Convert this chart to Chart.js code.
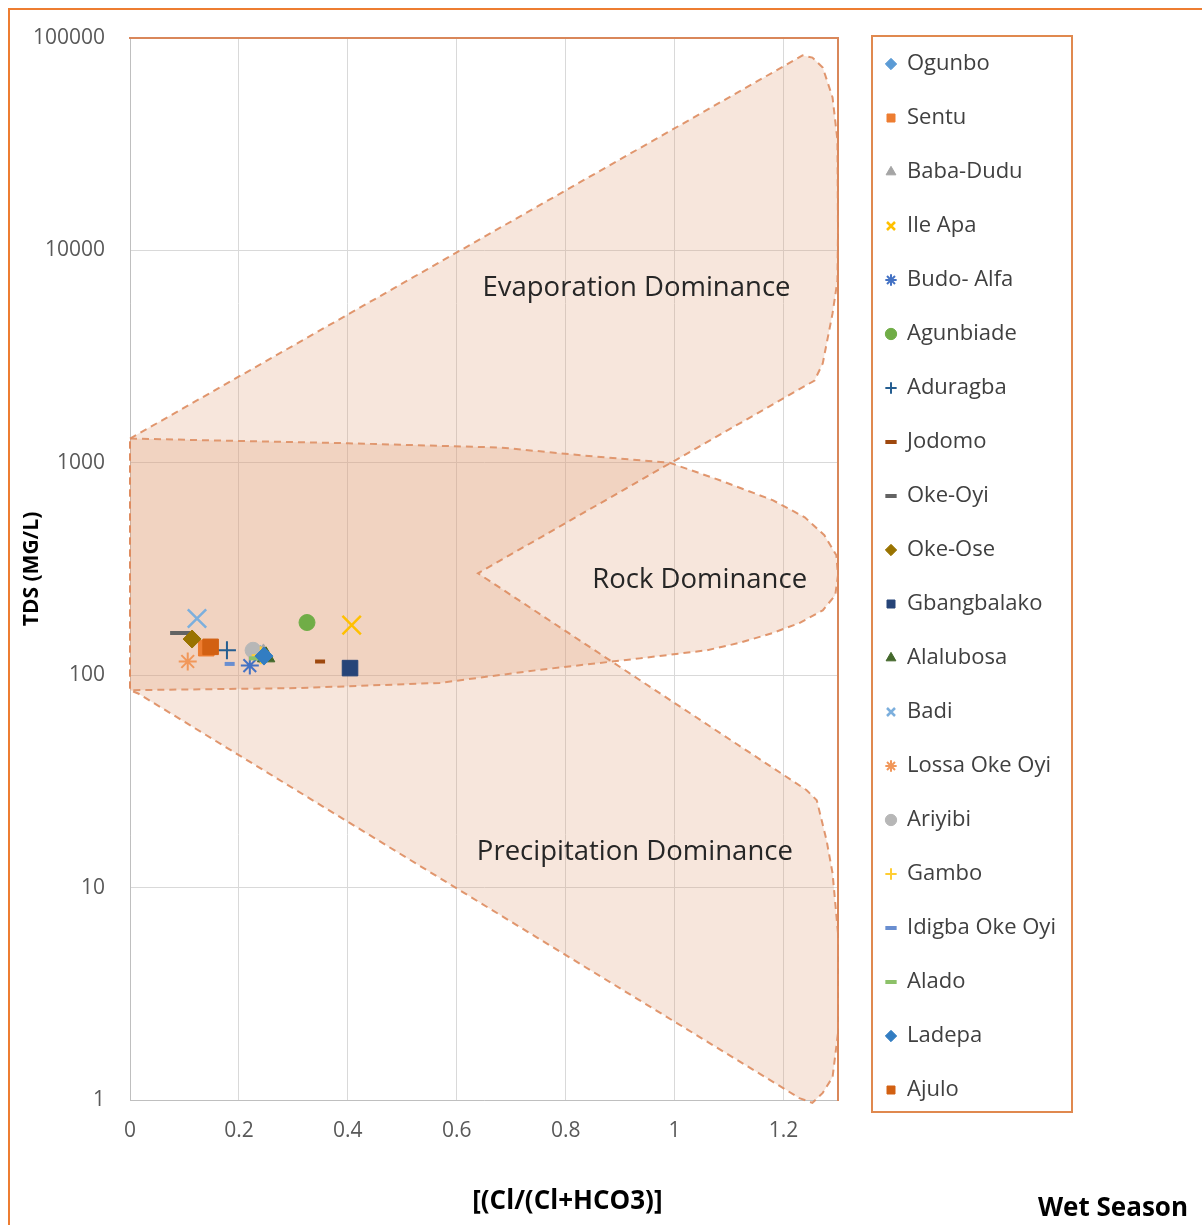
<!DOCTYPE html>
<html>
<head>
<meta charset="utf-8">
<title>Gibbs diagram - Wet Season</title>
<script src="https://cdn.jsdelivr.net/npm/chart.js@4.4.1/dist/chart.umd.min.js"></script>
<style>
  html, body { margin: 0; padding: 0; background: #fff; overflow: hidden; }
  #frame { position: absolute; left: 8px; top: 8px; width: 1220px; height: 1240px;
           border: 2px solid #ED7D31; box-sizing: border-box; }
  #wrap { position: absolute; left: 0; top: 0; width: 1202px; height: 1225px; }
</style>
</head>
<body>
<div id="frame"></div>
<div id="wrap"><canvas id="gibbs"></canvas></div>
<script>
// sampling sites (wet season)
const sites = ['Ogunbo', 'Sentu', 'Baba-Dudu', 'Ile Apa', 'Budo- Alfa', 'Agunbiade', 'Aduragba',
  'Jodomo', 'Oke-Oyi', 'Oke-Ose', 'Gbangbalako', 'Alalubosa', 'Badi', 'Lossa Oke Oyi',
  'Ariyibi', 'Gambo', 'Idigba Oke Oyi', 'Alado', 'Ladepa', 'Ajulo'];
// Cl/(Cl+HCO3)
const clRatio = [0.24, 0.14, 0.245, 0.407, 0.22, 0.325, 0.178, 0.349, 0.092, 0.114,
  0.404, 0.25, 0.123, 0.106, 0.226, 0.24, 0.183, 0.235, 0.246, 0.148];
// TDS mg/L
const tdsValues = [125, 134, 126, 172, 111, 177, 131, 116, 158, 148,
  108, 122, 185, 116, 131, 124, 113, 120, 123, 136];

const siteColors = ['#5B9BD5', '#ED7D31', '#A5A5A5', '#FFC000', '#4472C4', '#70AD47', '#255E91',
  '#9E480E', '#636363', '#997300', '#264478', '#43682B', '#7CAFDD', '#F1975A',
  '#B7B7B7', '#FFCD33', '#698ED0', '#8CC168', '#327DC2', '#D26012'];
const siteMarkers = ['rectRot', 'rect', 'triangle', 'crossRot', 'star', 'circle', 'cross',
  'line', 'line', 'rectRot', 'rect', 'triangle', 'crossRot', 'star',
  'circle', 'cross', 'line', 'line', 'rectRot', 'rect'];
const markerRadius = [9, 11, 10, 13, 9, 8, 9, 5, 10, 9, 11, 10, 13, 9, 8, 9, 5, 9, 9, 11];
const markerLine = [1, 1, 1, 2.5, 2, 1, 2, 4, 4, 1, 1, 1, 2.5, 2, 1, 2, 4, 4, 1, 1];

// Gibbs fields: [Cl ratio, TDS]
const boomerangField = [[0, 1300], [1.235, 82800], [1.253, 80900], [1.272, 72600], [1.29, 52500],
  [1.299, 33000], [1.3, 12400], [1.299, 7220], [1.29, 5050], [1.272, 2940], [1.257, 2440],
  [0.639, 302], [1.242, 28.8], [1.261, 25.8], [1.279, 16.7], [1.29, 11.7], [1.3, 6.1],
  [1.3, 2.07], [1.29, 1.28], [1.272, 1.08], [1.253, 0.97], [1.229, 1.02], [1.206, 1.11],
  [0.015, 82], [0, 85], [0, 1300]];
const rockField = [[0, 1300], [0.4, 1236], [0.68, 1180], [0.85, 1072], [0.991, 1000],
  [1.083, 828], [1.18, 667], [1.239, 554], [1.275, 456], [1.297, 367], [1.3, 296],
  [1.295, 238], [1.272, 202], [1.229, 176], [1.18, 158], [1.119, 142], [1.059, 131],
  [0.936, 120], [0.752, 106], [0.569, 92], [0.312, 87], [0, 85], [0, 1300]];

const fieldNames = ['Evaporation Dominance', 'Rock Dominance', 'Precipitation Dominance'];
const fieldLabelX = [0.93, 1.046, 0.927];
const fieldLabelY = [6620, 280, 14.7];

const yTicks = [1, 10, 100, 1000, 10000, 100000];
const FONT = "'Open Sans', 'Noto Sans', sans-serif";
const LEGEND_SIZE = 22;
const LEGEND_PAD = 32;

// legend width depends on the longest name; keep its left edge where the plot needs it
const mctx = document.createElement('canvas').getContext('2d');
mctx.font = LEGEND_SIZE + 'px ' + FONT;
const longest = Math.max(...sites.map(s => mctx.measureText(s).width));
const legendLeft = 854;
const legendWidth = LEGEND_PAD + 10 + LEGEND_SIZE / 2 + longest + 10;
const padRight = Math.max(0, 1202 - legendLeft - legendWidth);

const siteSets = sites.map((name, i) => ({
  label: name,
  data: [{ x: clRatio[i], y: tdsValues[i] }],
  pointStyle: siteMarkers[i],
  pointRadius: markerRadius[i],
  pointHoverRadius: markerRadius[i],
  backgroundColor: siteColors[i],
  borderColor: siteColors[i],
  borderWidth: markerLine[i],
  order: sites.length - i   // later series on top, like the spreadsheet
}));

function fieldSet(name, pts) {
  return {
    label: name,
    data: pts.map(p => ({ x: p[0], y: p[1] })),
    showLine: true,
    fill: 'shape',
    tension: 0,
    pointRadius: 0,
    pointHoverRadius: 0,
    borderColor: 'rgba(222,140,95,0.9)',
    borderWidth: 2,
    borderDash: [7, 5],
    backgroundColor: 'rgba(223,155,115,0.25)',
    clip: false,
    order: 100
  };
}

const fieldText = {
  id: 'fieldText',
  afterDatasetsDraw(chart) {
    const { ctx, scales: { x, y } } = chart;
    ctx.save();
    ctx.fillStyle = '#262626';
    ctx.font = '27.5px ' + FONT;
    ctx.textAlign = 'center';
    ctx.textBaseline = 'middle';
    fieldNames.forEach((t, i) => {
      ctx.fillText(t, x.getPixelForValue(fieldLabelX[i]), y.getPixelForValue(fieldLabelY[i]));
    });
    ctx.restore();
  }
};

const frameAndTitles = {
  id: 'frameAndTitles',
  afterDraw(chart) {
    const { ctx, chartArea, legend } = chart;
    const hb = legend.legendHitBoxes;
    const last = hb[hb.length - 1];
    const top = chartArea.top - 2;
    const bottom = last.top + last.height + 11;
    ctx.save();
    ctx.strokeStyle = '#E0894F';
    ctx.lineWidth = 2;
    ctx.strokeRect(legend.left + 18, top, 200, bottom - top);

    ctx.fillStyle = '#000';
    ctx.font = 'bold 26px ' + FONT;
    ctx.textBaseline = 'middle';
    ctx.textAlign = 'center';
    ctx.fillText('[(Cl/(Cl+HCO3)]', chart.width * 0.472, chartArea.bottom + 102);
    ctx.textAlign = 'right';
    ctx.fillText('Wet Season', chart.width - 14, chartArea.bottom + 109);
    ctx.restore();
  }
};

new Chart(document.getElementById('gibbs'), {
  type: 'scatter',
  data: {
    datasets: siteSets.concat([
      fieldSet('boomerang', boomerangField),
      fieldSet('rock', rockField)
    ])
  },
  options: {
    responsive: true,
    maintainAspectRatio: false,
    animation: false,
    layout: { padding: { left: 10, right: padRight, top: 21, bottom: 0 } },
    scales: {
      x: {
        type: 'linear', position: 'bottom', min: 0, max: 1.3,
        ticks: {
          stepSize: 0.2, includeBounds: false, padding: 18, color: '#595959',
          font: { family: FONT, size: 21 },
          callback: v => String(Math.round(v * 10) / 10)
        },
        grid: { color: '#d9d9d9', drawTicks: false },
        border: { color: '#bfbfbf' },
        afterFit: s => { s.height = 125; }
      },
      y: {
        type: 'logarithmic', position: 'left', min: 1, max: 100000,
        afterBuildTicks: s => { s.ticks = yTicks.map(v => ({ value: v })); },
        ticks: {
          padding: 25, color: '#595959', font: { family: FONT, size: 21 },
          callback: v => String(v)
        },
        title: {
          display: true, text: 'TDS (MG/L)', color: '#000',
          font: { family: FONT, size: 21, weight: 'bold' },
          padding: { top: 9, bottom: 0 }
        },
        grid: { color: '#d9d9d9', drawTicks: false },
        border: { color: '#bfbfbf' },
        afterFit: s => { s.width = 120; }
      },
      xTop: {
        type: 'linear', position: 'top',
        grid: { display: false }, ticks: { display: false },
        border: { color: '#D9875A', width: 2 },
        afterFit: s => { s.height = 17; }
      },
      yRight: {
        type: 'linear', position: 'right',
        grid: { display: false }, ticks: { display: false },
        border: { color: '#D9875A', width: 2 },
        afterFit: s => { s.width = 16; }
      }
    },
    plugins: {
      legend: {
        position: 'right', align: 'start', maxWidth: 400,
        labels: {
          usePointStyle: true, boxWidth: 10, boxHeight: 8, padding: LEGEND_PAD,
          color: '#404040', font: { family: FONT, size: LEGEND_SIZE },
          filter: item => item.datasetIndex < sites.length,
          sort: (a, b) => a.datasetIndex - b.datasetIndex
        }
      },
      tooltip: { enabled: false }
    }
  },
  plugins: [fieldText, frameAndTitles]
});
</script>
</body>
</html>
